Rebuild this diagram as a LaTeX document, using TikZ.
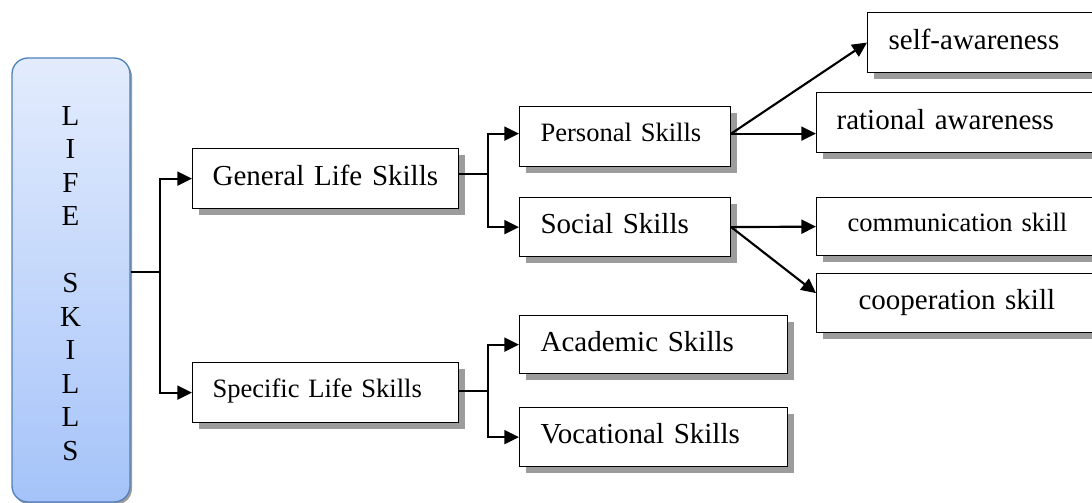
\documentclass[tikz,border=0pt]{standalone}
\usepackage{fontspec}
\setmainfont{Liberation Serif}
\usetikzlibrary{arrows.meta,shadows,calc}
\definecolor{lifeborder}{HTML}{4F81BD}
\definecolor{lifetop}{HTML}{E3ECFD}
\definecolor{lifebot}{HTML}{A5C3F9}
\definecolor{shadowgray}{HTML}{9C9C9C}
\tikzset{
  bigfont/.style={font=\fontsize{21.75pt}{26pt}\selectfont, text height=15pt, text depth=5pt},
  smallfont/.style={font=\fontsize{19.9pt}{24pt}\selectfont, text height=13.5pt, text depth=6.5pt},
  skillbox/.style={draw=black, line width=0.9pt, fill=white, anchor=north west,
    align=left, inner ysep=0pt, minimum height=45pt,
    drop shadow={shadow xshift=4.5pt, shadow yshift=-4.5pt, fill=shadowgray, opacity=1}},
  stem/.style={line width=1pt},
  arr/.style={line width=1.6pt, -{Triangle[length=11pt,width=10.5pt]}},
}
\begin{document}
\begin{tikzpicture}[x=0.75pt,y=-0.75pt]
\clip (0,0) rectangle (1092,503);
% LIFE SKILLS box
\node[draw=lifeborder, line width=1pt, rounded corners=12pt, top color=lifetop, bottom color=lifebot,
  minimum width=88.5pt, minimum height=333pt, inner sep=0pt,
  drop shadow={shadow xshift=1.5pt, shadow yshift=-2pt, fill=shadowgray, opacity=1}] (life) at (71,280) {};
\node[align=center, text width=30pt, inner sep=0pt, font=\fontsize{21.75pt}{25.1pt}\selectfont] (lifetext) at (70.5,283.5)
  {L\\I\\F\\E\\\mbox{}\\S\\K\\I\\L\\L\\S};
% level 1
\node[skillbox, bigfont, text width=169.5pt, inner xsep=15pt] (gen) at (192,148) {General Life Skills};
\node[skillbox, smallfont, text width=169.5pt, inner xsep=15pt] (spec) at (192,362) {Specific Life Skills};
% level 2
\node[skillbox, smallfont, text width=126.75pt, inner xsep=15.75pt] (pers) at (519,106) {Personal Skills};
\node[skillbox, bigfont, text width=126.75pt, inner xsep=15.75pt, minimum height=44.25pt] (soc) at (519,197) {Social Skills};
\node[skillbox, bigfont, text width=169.5pt, inner xsep=15.75pt, minimum height=43.5pt] (acad) at (519,315) {Academic Skills};
\node[skillbox, bigfont, text width=169.5pt, inner xsep=15.75pt, minimum height=44.25pt] (voc) at (519,407) {Vocational Skills};
% level 3
\node[skillbox, bigfont, text width=150.75pt, inner xsep=15.75pt] (self) at (867,12) {self-awareness};
\node[skillbox, bigfont, text width=190.5pt, inner xsep=15pt] (rat) at (816,92) {rational awareness};
\node[skillbox, smallfont, text width=174pt, inner xsep=23.25pt, minimum height=43.5pt] (comm) at (816,197) {communication skill};
\node[skillbox, bigfont, text width=157.5pt, inner xsep=31.5pt, minimum height=44.25pt] (coop) at (816,273) {cooperation skill};
% connectors
\coordinate (j1) at (160,272);
\draw[stem] (life.east |- j1) -- (j1);
\draw[arr] (j1) |- (gen.west);
\draw[arr] (j1) |- (spec.west);
\coordinate (j2) at (488,174);
\draw[stem] (gen.east |- j2) -- (j2);
\draw[arr] (j2) |- ($(pers.west)+(0,-3)$);
\draw[arr] (j2) |- (soc.west);
\coordinate (j3) at (488,391);
\draw[stem] (spec.east |- j3) -- (j3);
\draw[arr] (j3) |- (acad.west);
\draw[arr] (j3) |- (voc.west);
\coordinate (p0) at ($(pers.east)+(0,-3)$);
\draw[arr] (p0) -- (self.west);
\draw[arr] (p0) -- (p0 -| rat.west);
\draw[arr] (soc.east) -- (comm.west);
\draw[arr] (soc.east) -- ($(coop.west)+(0,-10)$);
\end{tikzpicture}
\end{document}
